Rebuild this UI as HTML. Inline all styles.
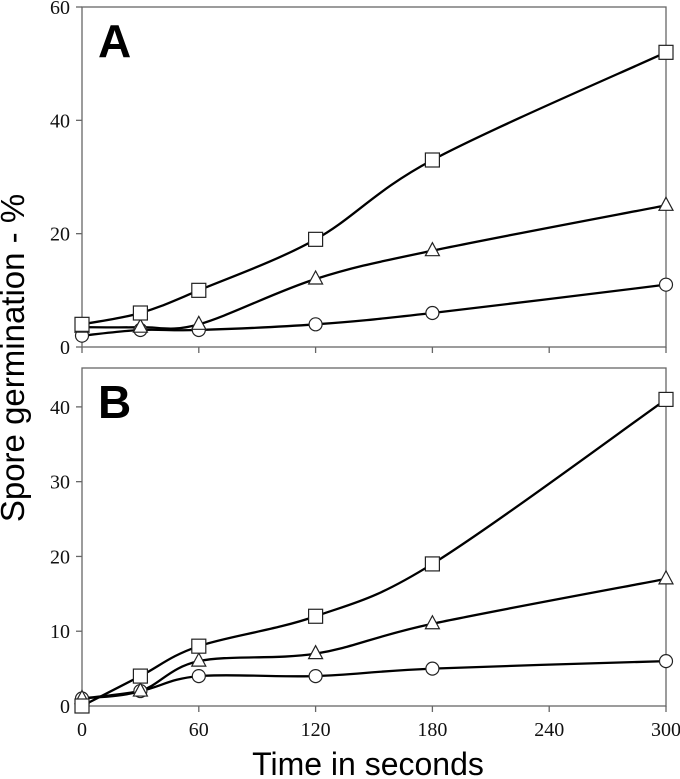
<!DOCTYPE html>
<html><head><meta charset="utf-8"><style>
body{margin:0;background:#fff;}
svg{display:block;font-family:"Liberation Serif",serif;}
</style></head><body>
<svg id="chart" width="680" height="779" viewBox="0 0 680 779" xmlns="http://www.w3.org/2000/svg"></svg>
<script>
const xTimes=[0,30,60,120,180,300];
const xTicks=[0,60,120,180,240,300];
const aSquare=[4,6,10,19,33,52];
const aTriangle=[3.5,3.5,4,12,17,25];
const aCircle=[2,3,3,4,6,11];
const bSquare=[0,4,8,12,19,41];
const bTriangle=[1,2,6,7,11,17];
const bCircle=[1,2,4,4,5,6];
const aYTicks=[0,20,40,60];
const bYTicks=[0,10,20,30,40];
const NS="http://www.w3.org/2000/svg";
const svg=document.getElementById('chart');
function mk(t,a,p){const e=document.createElementNS(NS,t);for(const k in a)e.setAttribute(k,a[k]);(p||svg).appendChild(e);return e;}
const X0=82,X1=666;
function xs(v){return X0+(v/300)*(X1-X0);}
function spline(pts){let d=`M${pts[0][0]},${pts[0][1]}`;for(let i=0;i<pts.length-1;i++){const p0=pts[Math.max(0,i-1)],p1=pts[i],p2=pts[i+1],p3=pts[Math.min(pts.length-1,i+2)];const c1=[p1[0]+(p2[0]-p0[0])/6,p1[1]+(p2[1]-p0[1])/6],c2=[p2[0]-(p3[0]-p1[0])/6,p2[1]-(p3[1]-p1[1])/6];d+=` C${c1[0]},${c1[1]} ${c2[0]},${c2[1]} ${p2[0]},${p2[1]}`;}return d;}
function panel(name,top,bottom,ymax,yTicks,series,letter,showX){
  const g=mk('g',{});
  
  
  const ys=v=>bottom-(v/ymax)*(bottom-top);
  const fr=mk('rect',{x:X0,y:top,width:X1-X0,height:bottom-top,fill:'none',stroke:'#666','stroke-width':1.3},g);
  
  
  yTicks.forEach(v=>{
    mk('line',{x1:X0-6,x2:X0,y1:ys(v),y2:ys(v),stroke:'#666','stroke-width':1.3},g);
    const t=mk('text',{x:X0-12,y:ys(v)+7,'text-anchor':'end','font-size':20,fill:'#111'},g);
    t.textContent=v;
    
    
  });
  xTicks.forEach(v=>{
    mk('line',{x1:xs(v),x2:xs(v),y1:bottom,y2:bottom+6,stroke:'#666','stroke-width':1.3},g);
    if(showX){const t=mk('text',{x:xs(v),y:bottom+30,'text-anchor':'middle','font-size':20,fill:'#111'},g);t.textContent=v;
    
    }
  });
  const L=mk('text',{x:98,y:top+50,'font-size':46,'font-weight':'bold','font-family':'Liberation Sans, sans-serif'},g);
  L.textContent=letter;
  
  
  series.forEach(s=>{
    const pts=xTimes.map((t,i)=>[xs(t),ys(s.vals[i])]);
    const p=mk('path',{d:spline(pts),fill:'none',stroke:'#000','stroke-width':2.3},g);
    
    
  });
  series.forEach(s=>{
    xTimes.forEach((t,i)=>{
      const x=xs(t),y=ys(s.vals[i]);let m;
      if(s.n==='square')m=mk('rect',{x:x-7,y:y-7,width:14,height:14,fill:'#fff',stroke:'#222','stroke-width':1.2},g);
      else if(s.n==='circle')m=mk('circle',{cx:x,cy:y,r:6.5,fill:'#fff',stroke:'#222','stroke-width':1.2},g);
      else m=mk('polygon',{points:`${x},${y-8} ${x-7},${y+5} ${x+7},${y+5}`,fill:'#fff',stroke:'#222','stroke-width':1.2},g);
      
      
    });
  });
}
panel('a',7,347,60,aYTicks,[{n:'circle',vals:aCircle},{n:'triangle',vals:aTriangle},{n:'square',vals:aSquare}],'A',false);
panel('b',368,706,45.2,bYTicks,[{n:'circle',vals:bCircle},{n:'triangle',vals:bTriangle},{n:'square',vals:bSquare}],'B',true);
const xt=mk('text',{x:368,y:775,'text-anchor':'middle','font-size':32,'font-family':'Liberation Sans, sans-serif'});
xt.textContent='Time in seconds';


const yt=mk('text',{x:0,y:0,'text-anchor':'middle','font-size':33,'font-family':'Liberation Sans, sans-serif',transform:'translate(24,358) rotate(-90)'});
yt.textContent='Spore germination - %';


</script>
</body></html>
